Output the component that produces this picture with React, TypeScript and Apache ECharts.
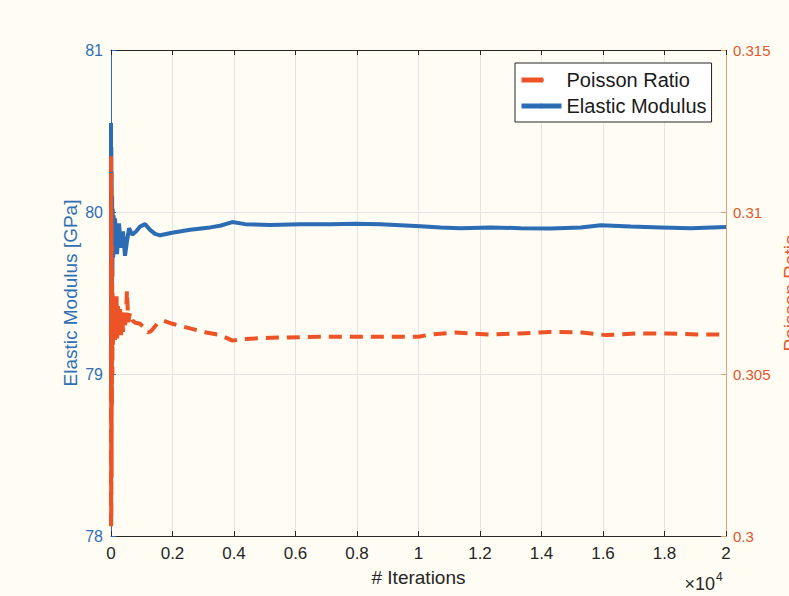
import React, { useEffect, useRef } from "react";
import * as echarts from "echarts";

// x axis: iterations (displayed as value / 10^4)
const xMin = 0;
const xMax = 20000;
const xStep = 2000;
const leftMin = 78;
const leftMax = 81;
const leftStep = 1;
const rightMin = 0.3;
const rightMax = 0.315;
const rightStep = 0.005;

// Elastic Modulus [GPa] vs iteration
const elasticData: [number, number][] = [
  [0, 80.55], [5, 78.83], [10, 80.4], [15, 79.05], [20, 80.25], [28, 79.3],
  [36, 80.1], [45, 79.6], [55, 80.02], [70, 79.72], [85, 79.98], [100, 79.78],
  [130, 79.96], [195, 79.74], [260, 79.93], [325, 79.78], [390, 79.88], [455, 79.73],
  [520, 79.82], [586, 79.9], [684, 79.86], [814, 79.88], [945, 79.91], [1107, 79.925],
  [1270, 79.89], [1433, 79.865], [1600, 79.856], [1987, 79.872], [2573, 79.89],
  [3224, 79.905], [3550, 79.915], [3941, 79.938], [4364, 79.925], [5179, 79.92],
  [6156, 79.925], [7133, 79.924], [7947, 79.928], [8762, 79.925], [10064, 79.912],
  [10715, 79.905], [11367, 79.9], [12344, 79.905], [13321, 79.9], [14298, 79.898],
  [15275, 79.905], [15927, 79.918], [16904, 79.91], [17881, 79.905], [18858, 79.9],
  [20000, 79.908],
];

// Poisson Ratio vs iteration
const poissonData: [number, number][] = [
  [0, 0.3003], [3, 0.3118], [6, 0.3003], [9, 0.3112], [12, 0.3005], [16, 0.31],
  [20, 0.3018], [25, 0.309], [30, 0.304], [36, 0.3082], [44, 0.305], [52, 0.3075],
  [62, 0.3058], [75, 0.3072], [90, 0.306], [110, 0.3068], [130, 0.30605],
  [145, 0.3073], [160, 0.3061], [180, 0.3074], [200, 0.3061], [230, 0.3071],
  [260, 0.3062], [295, 0.307], [330, 0.3062], [360, 0.3069], [390, 0.3063],
  [420, 0.3068], [450, 0.3064], [500, 0.3071], [520, 0.30758], [560, 0.3066], [620, 0.3069],
  [700, 0.30665], [800, 0.30658], [950, 0.30655], [1100, 0.3064], [1200, 0.30628],
  [1300, 0.30632], [1500, 0.30655], [1700, 0.30665], [2000, 0.30655], [2600, 0.3064],
  [3100, 0.30628], [3550, 0.3062], [3950, 0.30603], [4300, 0.30608], [5200, 0.30612],
  [6800, 0.30615], [8400, 0.30615], [10000, 0.30615], [10400, 0.30622], [11200, 0.30628],
  [12300, 0.30622], [13300, 0.30625], [14300, 0.3063], [15300, 0.30628], [16100, 0.3062],
  [17100, 0.30625], [18100, 0.30625], [19200, 0.30622], [20000, 0.30622],
];

const FONT = "'Liberation Sans', Arial, Helvetica, sans-serif";
const BLUE = "#2b6cb5";
const BLUE_TXT = "#2f6fb4";
const RED = "#ec5326";
const RED_TXT = "#e0582c";
const DARK = "#262626";
const GRID = "#e4e4e4";
const BG = "#fefcf3";

export default function App() {
  const ref = useRef<HTMLDivElement>(null);
  useEffect(() => {
    const chart = echarts.init(ref.current!, null, { renderer: "svg" });
    chart.setOption({
      animation: false,
      backgroundColor: BG,
      textStyle: { fontFamily: FONT },
      grid: { left: 111, right: 63, top: 50, bottom: 60, outerBoundsMode: "none", containLabel: false },
      legend: {
        orient: "vertical",
        left: 515,
        top: 63,
        padding: [7, 5, 6, 4],
        itemGap: 6,
        itemWidth: 40,
        itemHeight: 6,
        backgroundColor: "#ffffff",
        borderColor: DARK,
        borderWidth: 1,
        borderRadius: 0,
        textStyle: { fontSize: 20, color: "#1a1a1a", fontFamily: FONT },
        data: [
          { name: "Poisson Ratio", lineStyle: { width: 5, type: [21, 19], color: RED } },
          { name: "Elastic Modulus", lineStyle: { width: 5, color: BLUE } },
        ],
      },
      xAxis: [
        {
          type: "value",
          position: "bottom",
          min: xMin,
          max: xMax,
          interval: xStep,
          name: "# Iterations",
          nameLocation: "middle",
          nameGap: 32,
          nameMoveOverlap: false,
          nameTextStyle: { color: DARK, fontSize: 19, fontFamily: FONT },
          axisLine: { show: true, onZero: false, lineStyle: { color: DARK, width: 1 } },
          axisTick: { show: true, inside: true, length: 5, lineStyle: { color: DARK } },
          axisLabel: {
            color: DARK,
            fontSize: 17,
            margin: 9,
            formatter: (v: number) => String(parseFloat((v / 10000).toFixed(1))),
          },
          splitLine: { show: true, lineStyle: { color: GRID, width: 1 } },
        },
        {
          type: "value",
          position: "top",
          min: xMin,
          max: xMax,
          interval: xStep,
          axisLine: { show: true, onZero: false, lineStyle: { color: DARK, width: 1 } },
          axisTick: { show: true, inside: true, length: 5, lineStyle: { color: DARK } },
          axisLabel: { show: false },
          splitLine: { show: false },
        },
      ],
      yAxis: [
        {
          type: "value",
          position: "left",
          min: leftMin,
          max: leftMax,
          interval: leftStep,
          name: "Elastic Modulus [GPa]",
          nameLocation: "middle",
          nameGap: 31,
          nameRotate: 90,
          nameMoveOverlap: false,
          nameTextStyle: { color: BLUE_TXT, fontSize: 19, fontFamily: FONT },
          axisLine: { show: true, onZero: false, lineStyle: { color: BLUE, width: 1 } },
          axisTick: { show: true, inside: true, length: 5, lineStyle: { color: BLUE } },
          axisLabel: { color: BLUE_TXT, fontSize: 16, margin: 8 },
          splitLine: { show: true, lineStyle: { color: GRID, width: 1 } },
        },
        {
          type: "value",
          position: "right",
          min: rightMin,
          max: rightMax,
          interval: rightStep,
          name: "Poisson Ratio",
          nameLocation: "middle",
          nameGap: 55,
          nameRotate: 90,
          nameMoveOverlap: false,
          nameTextStyle: { color: RED_TXT, fontSize: 19, fontFamily: FONT },
          axisLine: { show: true, onZero: false, lineStyle: { color: "#d9a27a", width: 1 } },
          axisTick: { show: true, inside: true, length: 5, lineStyle: { color: "#d9a27a" } },
          axisLabel: {
            color: RED_TXT,
            fontSize: 15,
            margin: 7,
            formatter: (v: number) => String(parseFloat(v.toFixed(3))),
          },
          splitLine: { show: false },
        },
      ],
      graphic: [
        {
          type: "text",
          right: 789 - 715,
          top: 575,
          style: { text: "×10", fontSize: 18, fill: DARK, fontFamily: FONT },
        },
        {
          type: "text",
          left: 716,
          top: 571,
          style: { text: "4", fontSize: 12, fill: DARK, fontFamily: FONT },
        },
      ],
      series: [
        {
          type: "line",
          name: "Elastic Modulus",
          xAxisIndex: 0,
          yAxisIndex: 0,
          data: elasticData,
          symbol: "none",
          showSymbol: false,
          z: 2,
          itemStyle: { color: BLUE },
          lineStyle: { color: BLUE, width: 4 },
        },
        {
          type: "line",
          name: "Poisson Ratio",
          xAxisIndex: 0,
          yAxisIndex: 1,
          data: poissonData,
          symbol: "none",
          showSymbol: false,
          z: 3,
          itemStyle: { color: RED },
          lineStyle: { color: RED, width: 4, type: [13, 8] },
        },
      ],
    });
    return () => chart.dispose();
  }, []);
  return (
    <div
      ref={ref}
      style={{ position: "fixed", left: 0, top: 0, width: 789, height: 596, background: BG }}
    />
  );
}
